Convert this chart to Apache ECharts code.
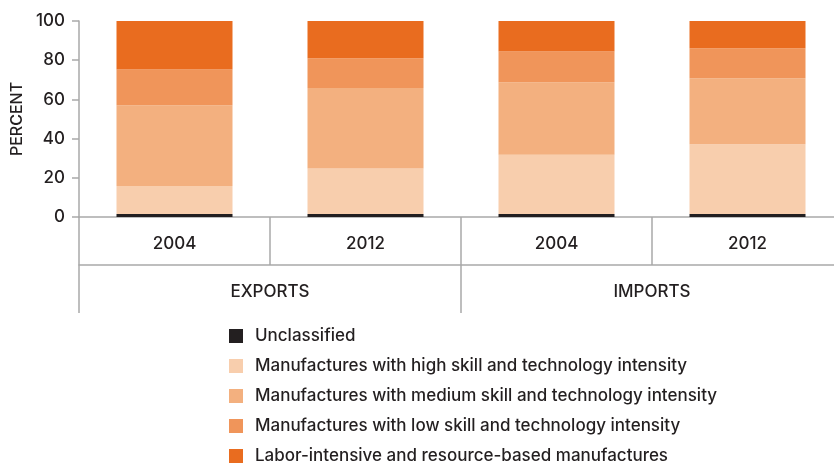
<!DOCTYPE html>
<html>
<head>
<meta charset="utf-8">
<script src="https://cdn.jsdelivr.net/npm/echarts@6/dist/echarts.min.js"></script>
<style>
html,body{margin:0;padding:0;background:#fff;overflow:hidden;width:834px;height:463px;}
#chart{width:843px;height:480px;}
</style>
</head>
<body>
<div id="chart"></div>
<script>
var years = ['2004', '2012', '2004', '2012'];
var groups = ['EXPORTS', 'IMPORTS'];
var yTicks = [0, 20, 40, 60, 80, 100];
var seriesNames = [
  'Unclassified',
  'Manufactures with high skill and technology intensity',
  'Manufactures with medium skill and technology intensity',
  'Manufactures with low skill and technology intensity',
  'Labor-intensive and resource-based manufactures'
];
var unclassified = [1.5, 1.5, 1.5, 1.5];
var highSkill = [14.3, 23.2, 30.3, 35.6];
var mediumSkill = [41.2, 41.1, 36.9, 33.7];
var lowSkill = [18.3, 15.2, 15.8, 15.3];
var laborIntensive = [24.7, 19.0, 15.5, 13.9];
var seriesValues = [unclassified, highSkill, mediumSkill, lowSkill, laborIntensive];
var colors = ['#231f20', '#f8cead', '#f3b07f', '#f0955a', '#e96c1f'];

var FONT = 'Inter';
var TXT = '#231f20';
var AX = '#a9a9a9';

var chart = echarts.init(document.getElementById('chart'), null, {renderer: 'canvas'});
var series = seriesNames.map(function (n, i) {
  return {
    name: n,
    type: 'bar',
    stack: 'total',
    xAxisIndex: 0,
    barWidth: 116,
    itemStyle: {color: colors[i]},
    data: seriesValues[i],
    animation: false
  };
});
chart.setOption({
  animation: false,
  color: colors,
  grid: {left: 79, top: 21, right: 0, height: 196, containLabel: false},
  legend: {
    orient: 'vertical',
    left: 229,
    top: 327,
    padding: 0,
    itemWidth: 14,
    itemHeight: 14,
    itemGap: 12,
    icon: 'rect',
    selectedMode: false,
    data: seriesNames,
    textStyle: {fontFamily: FONT, fontSize: 17, fontWeight: 500, color: TXT, lineHeight: 18, padding: [0, 0, 0, 7]}
  },
  xAxis: [
    {
      type: 'category',
      position: 'bottom',
      data: years,
      axisLine: {show: true, lineStyle: {color: AX, width: 1.5}},
      axisTick: {show: true, length: 48, interval: 0, lineStyle: {color: AX, width: 1.5}},
      axisLabel: {fontFamily: FONT, fontSize: 17, fontWeight: 500, color: TXT, margin: 18, interval: 0}
    },
    {
      type: 'category',
      position: 'bottom',
      offset: 48,
      data: groups,
      axisLine: {show: true, lineStyle: {color: AX, width: 1.5}},
      axisTick: {show: true, length: 48, interval: 0, lineStyle: {color: AX, width: 1.5}},
      axisLabel: {fontFamily: FONT, fontSize: 17, fontWeight: 500, color: TXT, margin: 18, interval: 0}
    }
  ],
  yAxis: {
    type: 'value',
    min: yTicks[0],
    max: yTicks[yTicks.length - 1],
    interval: 20,
    name: 'PERCENT',
    nameLocation: 'middle',
    nameGap: 53,
    nameTextStyle: {fontFamily: FONT, fontSize: 16, fontWeight: 500, color: TXT},
    axisLine: {show: true, lineStyle: {color: AX, width: 1.5}},
    axisTick: {show: true, length: 7, lineStyle: {color: AX, width: 1.5}},
    splitLine: {show: false},
    axisLabel: {fontFamily: FONT, fontSize: 17, fontWeight: 500, color: TXT, margin: 14}
  },
  series: series
});
</script>
</body>
</html>
